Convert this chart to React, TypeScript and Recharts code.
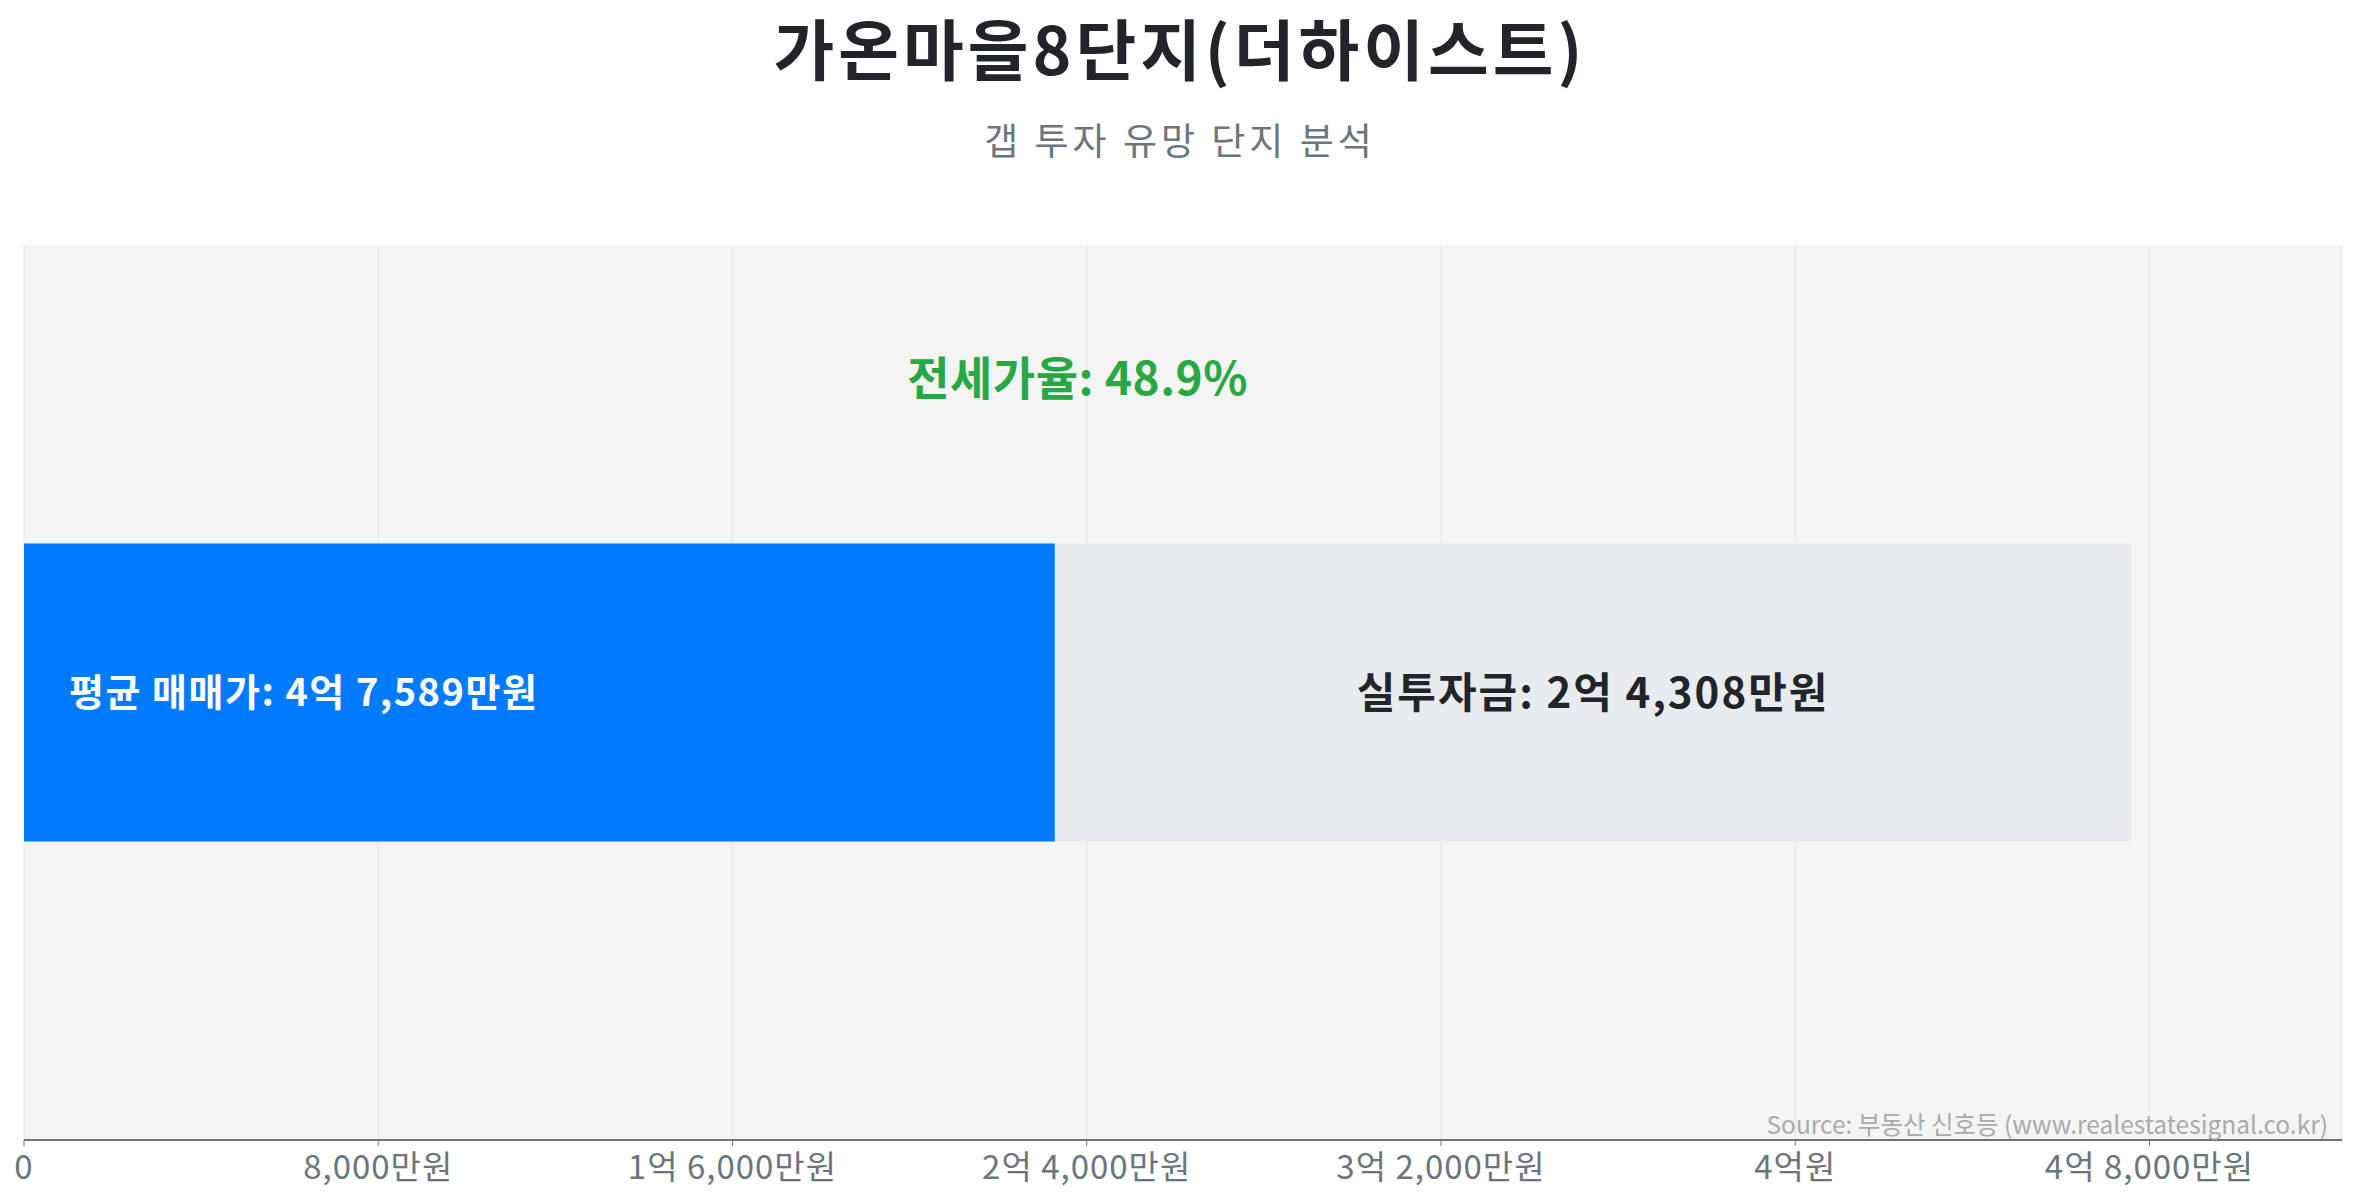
import React from 'react';
import { BarChart, Bar, XAxis, YAxis, CartesianGrid, LabelList, ReferenceLine } from 'recharts';

const complexName = '가온마을8단지(더하이스트)';
const subtitle = '갭 투자 유망 단지 분석';
const sourceText = 'Source: 부동산 신호등 (www.realestatesignal.co.kr)';

// 단위: 만원
const salePrice = [47589];
const jeonsePrice = [23281];
const investment = [24308];
const jeonseRatio = [48.9];

const saleLabels = ['평균 매매가: 4억 7,589만원'];
const investLabels = ['실투자금: 2억 4,308만원'];

const tickValues = [0, 8000, 16000, 24000, 32000, 40000, 48000];
const tickLabels = ['0', '8,000만원', '1억 6,000만원', '2억 4,000만원', '3억 2,000만원', '4억원', '4억 8,000만원'];

const data = [complexName].map((name, i) => ({
    name,
    jeonse: jeonsePrice[i],
    invest: investment[i],
    sale: salePrice[i],
}));

const FONT = '"Noto Sans CJK KR", "Noto Sans", sans-serif';
const W = 2341;
const H = 1185;

const SaleLabel = (props: any) => {
    const { x, y, height, index } = props;
    return (
        <text x={x + 45} y={y + height / 2 - 3} fill="#ffffff" fontSize={38} fontWeight={700}
            letterSpacing={1.5} fontFamily={FONT} textAnchor="start" dominantBaseline="central">
            {saleLabels[index]}
        </text>
    );
};

const InvestLabel = (props: any) => {
    const { x, y, width, height, index } = props;
    return (
        <text x={x + width / 2} y={y + height / 2 - 3} fill="#212529" fontSize={42} fontWeight={700}
            letterSpacing={2} fontFamily={FONT} textAnchor="middle" dominantBaseline="central">
            {investLabels[index]}
        </text>
    );
};

const RatioLabel = (props: any) => {
    const { viewBox } = props;
    return (
        <text x={viewBox.x} y={viewBox.y + 130} fill="#28a745" fontSize={46} fontWeight={700}
            letterSpacing={0.5} fontFamily={FONT} textAnchor="middle" dominantBaseline="central">
            {`전세가율: ${jeonseRatio[0]}%`}
        </text>
    );
};

const App = () => {
    return (
        <div style={{ position: 'relative', width: W, height: H, fontFamily: FONT }}>
            <BarChart width={W} height={H} data={data} layout="vertical"
                margin={{ top: 237, right: 7, bottom: 0, left: 16 }} barCategoryGap="33.35%">
                <CartesianGrid horizontal={false} stroke="#e6e6e6" fill="#f4f4f4" />
                <XAxis type="number" domain={[0, salePrice[0] * 1.1]} ticks={tickValues}
                    tickFormatter={(v: number) => tickLabels[tickValues.indexOf(v)]}
                    height={53} tickSize={6} tickMargin={10}
                    axisLine={{ stroke: '#6c757d', strokeWidth: 2 }}
                    tickLine={{ stroke: '#6c757d' }}
                    tick={{ fontSize: 33, fill: '#6c757d', fontFamily: FONT, letterSpacing: 1 }} />
                <YAxis type="category" dataKey="name" width={0} tick={false} tickLine={false}
                    axisLine={{ stroke: '#6c757d', strokeWidth: 1.5 }} />
                <Bar dataKey="jeonse" stackId="a" fill="#007bff" isAnimationActive={false}>
                    <LabelList dataKey="jeonse" content={SaleLabel} />
                </Bar>
                <Bar dataKey="invest" stackId="a" fill="#e9ecef" isAnimationActive={false}>
                    <LabelList dataKey="invest" content={InvestLabel} />
                </Bar>
                <ReferenceLine x={salePrice[0] / 2} stroke="none" label={RatioLabel} />
            </BarChart>
            <svg width={W} height={H} style={{ position: 'absolute', left: 0, top: 0, pointerEvents: 'none' }}>
                <text x={1172} y={38} textAnchor="middle" dominantBaseline="central"
                    fontSize={66} fontWeight={700} letterSpacing={4} fill="#212529" fontFamily={FONT}>
                    {complexName}
                </text>
                <text x={1172} y={131} textAnchor="middle" dominantBaseline="central"
                    fontSize={37} letterSpacing={4} fill="#6c757d" fontFamily={FONT}>
                    {subtitle}
                </text>
                <text x={2320} y={1115} textAnchor="end" dominantBaseline="central"
                    fontSize={24.5} fill="#aaaaaa" fontFamily={FONT}>
                    {sourceText}
                </text>
            </svg>
        </div>
    );
};

export default App;
